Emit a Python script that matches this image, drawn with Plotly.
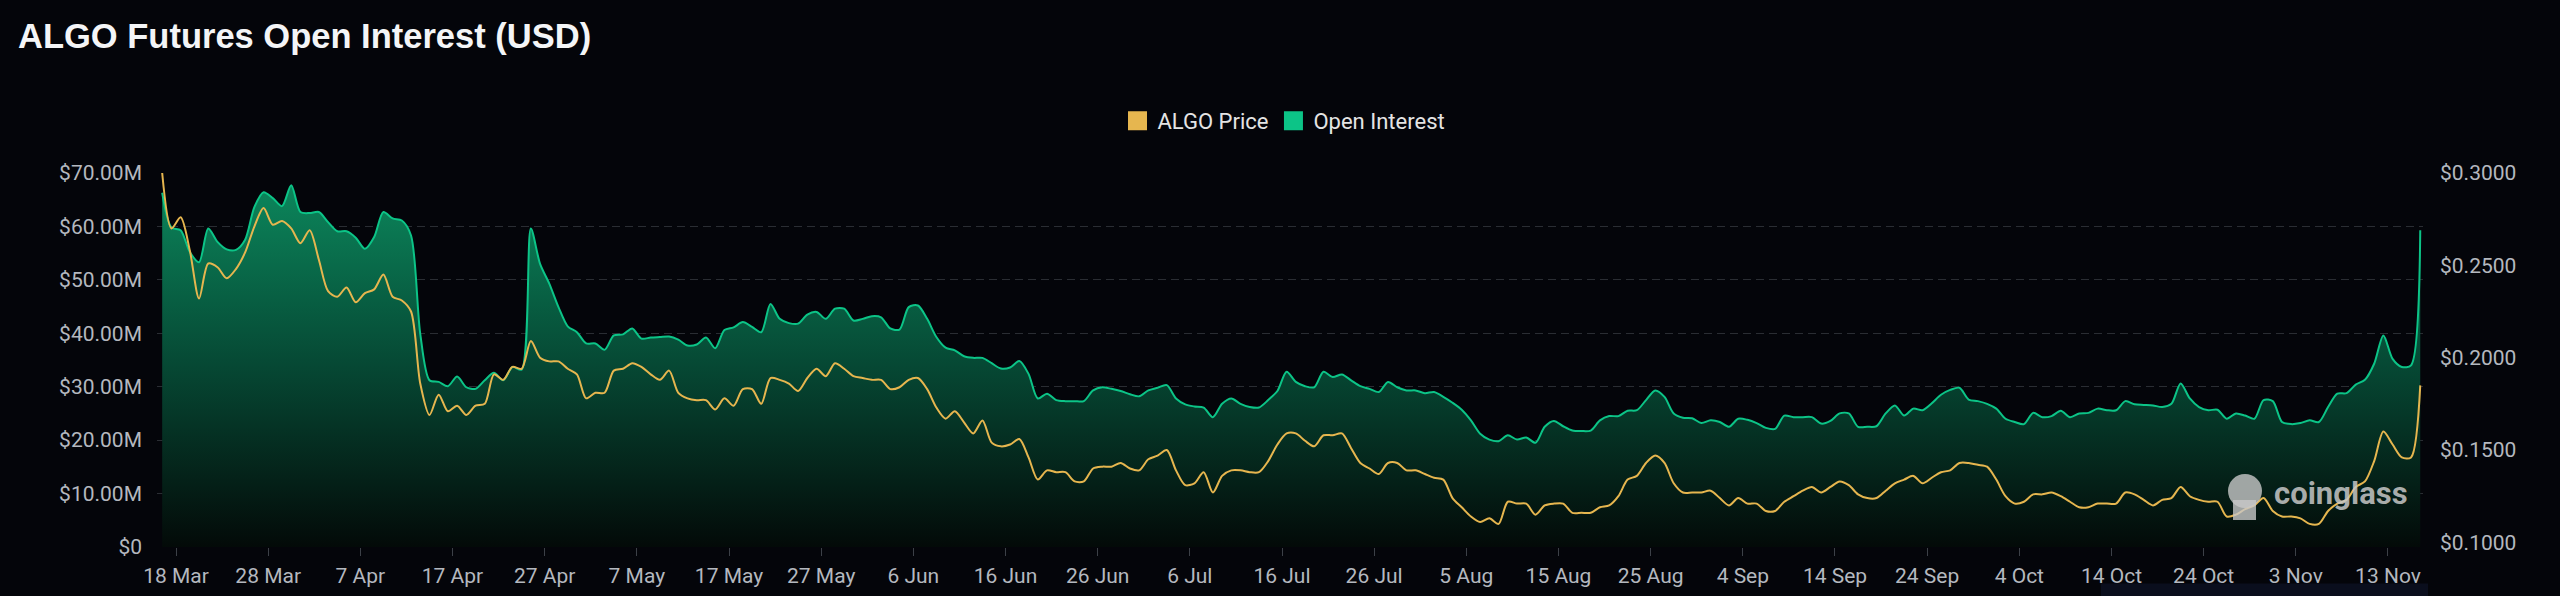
import pandas as pd
import plotly.graph_objects as go

# ---------------- data ----------------
dates = pd.date_range("2024-03-16 12:00", "2024-11-16 12:00", freq="D")

open_interest_musd = [
    66.3, 59.8, 59.3, 55.2, 53.3, 59.6, 57.1, 55.7, 55.6, 57.5,
    63.6, 66.4, 65.3, 63.8, 67.7, 62.7, 62.5, 62.7, 60.8, 59.1,
    59.1, 57.9, 55.8, 58.0, 62.7, 61.5, 61.1, 58.3, 39.9, 31.2,
    30.9, 30.1, 31.9, 29.9, 29.6, 31.2, 32.6, 31.2, 33.7, 33.2,
    59.6, 53.0, 49.3, 44.9, 41.3, 40.2, 38.1, 38.1, 36.9, 39.6,
    39.8, 40.9, 39.0, 39.2, 39.3, 39.4, 38.8, 37.7, 37.9,
    39.2, 37.2, 40.6, 41.1, 42.1, 41.2, 40.2, 45.5, 42.7, 41.9,
    41.8, 43.5, 44.0, 42.7, 44.6, 44.6, 42.4, 42.7, 43.2, 43.0,
    40.9, 40.7, 44.9, 45.2, 42.7, 39.3, 37.3, 36.8, 35.7, 35.4,
    35.4, 34.4, 33.4, 33.6, 34.8, 32.4, 27.8, 28.7, 27.5, 27.3,
    27.3, 27.3, 29.3, 29.9, 29.6, 29.2, 28.6, 28.2, 29.3, 29.8,
    30.3, 27.8, 26.7, 26.3, 26.1, 24.3, 26.8, 27.8, 26.8,
    26.2, 26.1, 27.5, 29.2, 32.8, 30.9, 30.1, 29.9, 32.8, 31.8,
    32.3, 31.2, 30.1, 29.6, 29.0, 30.9, 29.9, 29.3, 29.3, 28.8,
    29.0, 28.1, 27.0, 25.7, 23.7, 21.2, 20.1, 19.8, 20.9, 20.1,
    20.5, 19.5, 22.5, 23.6, 22.6, 21.8, 21.7, 21.8, 23.7, 24.5,
    24.5, 25.5, 25.6, 27.5, 29.3, 28.1, 25.0, 24.2, 24.1, 23.2,
    23.7, 23.4, 22.5, 24.0, 23.8, 23.2, 22.3, 22.1, 24.6, 24.3,
    24.3, 24.3, 23.1, 23.6, 25.0, 25.0, 22.5, 22.5, 22.6, 25.0,
    26.5, 24.6, 25.9, 25.6, 26.9, 28.5, 29.4, 29.8, 27.6, 27.3,
    26.8, 25.9, 24.0, 23.4, 23.0, 25.1, 24.3, 24.5, 25.5, 24.3,
    25.0, 25.1, 25.9, 25.6, 25.6, 27.3, 26.7, 26.6, 26.5, 26.2,
    26.8, 30.6, 27.8, 26.2, 25.6, 25.7, 24.0, 25.0, 24.6, 24.0,
    27.5, 27.3, 23.4, 23.0, 23.2, 23.7, 23.4, 26.2, 28.7, 28.8,
    30.4, 31.3, 34.3, 39.6, 35.2, 33.7, 34.0, 59.3,
]

algo_price_usd = [
    0.300, 0.270, 0.276, 0.258, 0.232, 0.251, 0.249, 0.243, 0.248, 0.257,
    0.271, 0.281, 0.272, 0.274, 0.270, 0.262, 0.269, 0.253, 0.236, 0.233,
    0.238, 0.230, 0.235, 0.237, 0.245, 0.233, 0.231, 0.225, 0.186, 0.169,
    0.180, 0.171, 0.174, 0.169, 0.174, 0.175, 0.191, 0.188, 0.195, 0.194,
    0.209, 0.200, 0.198, 0.198, 0.194, 0.191, 0.178, 0.181, 0.181, 0.193,
    0.194, 0.197, 0.195, 0.191, 0.188, 0.193, 0.181, 0.178, 0.177,
    0.177, 0.172, 0.178, 0.174, 0.183, 0.183, 0.175, 0.189, 0.188, 0.186,
    0.182, 0.189, 0.194, 0.190, 0.197, 0.194, 0.190, 0.189, 0.188, 0.188,
    0.183, 0.184, 0.188, 0.189, 0.183, 0.173, 0.167, 0.171, 0.165, 0.159,
    0.166, 0.154, 0.152, 0.153, 0.156, 0.146, 0.134, 0.139, 0.138, 0.138,
    0.133, 0.133, 0.140, 0.141, 0.141, 0.143, 0.140, 0.139, 0.145, 0.147,
    0.150, 0.139, 0.131, 0.132, 0.138, 0.127, 0.136, 0.139, 0.139,
    0.138, 0.138, 0.144, 0.153, 0.159, 0.159, 0.155, 0.152, 0.158, 0.158,
    0.159, 0.151, 0.143, 0.140, 0.137, 0.143, 0.143, 0.139, 0.139, 0.137,
    0.135, 0.134, 0.124, 0.119, 0.114, 0.111, 0.113, 0.110, 0.122, 0.121,
    0.121, 0.115, 0.120, 0.121, 0.121, 0.116, 0.116, 0.116, 0.119, 0.120,
    0.125, 0.134, 0.136, 0.143, 0.147, 0.143, 0.132, 0.127, 0.127, 0.127,
    0.128, 0.124, 0.120, 0.124, 0.121, 0.121, 0.117, 0.117, 0.122, 0.125,
    0.128, 0.130, 0.127, 0.130, 0.133, 0.131, 0.126, 0.124, 0.124, 0.128,
    0.132, 0.134, 0.136, 0.132, 0.135, 0.138, 0.139, 0.143, 0.143, 0.142,
    0.141, 0.134, 0.125, 0.121, 0.122, 0.126, 0.126, 0.127, 0.125, 0.122,
    0.119, 0.119, 0.121, 0.121, 0.121, 0.127, 0.126, 0.123, 0.120, 0.123,
    0.124, 0.130, 0.125, 0.123, 0.122, 0.122, 0.114, 0.115, 0.118, 0.120,
    0.124, 0.117, 0.114, 0.114, 0.113, 0.110, 0.110, 0.117, 0.121, 0.123,
    0.130, 0.133, 0.144, 0.160, 0.153, 0.146, 0.146, 0.185,
]

x_tick_dates = ["2024-03-18", "2024-03-28", "2024-04-07", "2024-04-17", "2024-04-27",
                "2024-05-07", "2024-05-17", "2024-05-27", "2024-06-06", "2024-06-16",
                "2024-06-26", "2024-07-06", "2024-07-16", "2024-07-26", "2024-08-05",
                "2024-08-15", "2024-08-25", "2024-09-04", "2024-09-14", "2024-09-24",
                "2024-10-04", "2024-10-14", "2024-10-24", "2024-11-03", "2024-11-13"]
x_tick_labels = ["18 Mar", "28 Mar", "7 Apr", "17 Apr", "27 Apr", "7 May", "17 May",
                 "27 May", "6 Jun", "16 Jun", "26 Jun", "6 Jul", "16 Jul", "26 Jul",
                 "5 Aug", "15 Aug", "25 Aug", "4 Sep", "14 Sep", "24 Sep", "4 Oct",
                 "14 Oct", "24 Oct", "3 Nov", "13 Nov"]
oi_tick_vals = [0, 10, 20, 30, 40, 50, 60, 70]
oi_tick_labels = ["$0", "$10.00M", "$20.00M", "$30.00M", "$40.00M", "$50.00M", "$60.00M", "$70.00M"]
price_tick_vals = [0.10, 0.15, 0.20, 0.25, 0.30]
price_tick_labels = ["$0.1000", "$0.1500", "$0.2000", "$0.2500", "$0.3000"]

# ---------------- style ----------------
BG = "#04050a"
GREEN = "#0cc487"
YELLOW = "#e6b64f"
LABEL = "#b4b8bf"
GRID = "#2a2d33"
TICKFONT = dict(family="Roboto", size=21, color=LABEL)

W, H = 2560, 596
L, R, T, B = 157, 137, 173, 49
PW, PH = W - L - R, H - T - B


def px_x(px):
    return (px - L) / PW


def px_y(py):
    return (H - B - py) / PH


fig = go.Figure()

fig.add_trace(go.Scatter(
    x=dates, y=open_interest_musd, name="Open Interest", legendgroup="oi",
    mode="lines", line=dict(color=GREEN, width=2, shape="spline", smoothing=0.8),
    fill="tozeroy",
    fillgradient=dict(type="vertical", start=0, stop=70,
                      colorscale=[[0, "#030a08"], [0.5, "#064a35"], [1, "#0c8a5e"]]),
    showlegend=False,
    hovertemplate="%{x|%d %b %Y}<br>Open Interest: $%{y:.2f}M<extra></extra>",
))
fig.add_trace(go.Scatter(
    x=dates, y=algo_price_usd, name="ALGO Price", legendgroup="price", yaxis="y2",
    mode="lines", line=dict(color=YELLOW, width=2, shape="spline", smoothing=0.8),
    showlegend=False,
    hovertemplate="%{x|%d %b %Y}<br>ALGO Price: $%{y:.4f}<extra></extra>",
))
# legend entries (square swatches)
fig.add_trace(go.Scatter(x=[None], y=[None], mode="markers", name="ALGO Price",
                         legendgroup="price", yaxis="y2",
                         marker=dict(symbol="square", size=16, color=YELLOW,
                                     line=dict(color=YELLOW, width=3))))
fig.add_trace(go.Scatter(x=[None], y=[None], mode="markers", name="Open Interest",
                         legendgroup="oi",
                         marker=dict(symbol="square", size=16, color=GREEN,
                                     line=dict(color=GREEN, width=3))))

fig.update_layout(
    width=W, height=H,
    paper_bgcolor=BG, plot_bgcolor=BG,
    margin=dict(l=L, r=R, t=T, b=B, autoexpand=False),
    title=dict(text="ALGO Futures Open Interest (USD)", xref="container", yref="container",
               x=18 / W, xanchor="left", y=1 - 36 / H, yanchor="middle",
               font=dict(family="Liberation Sans", size=34.5, color="#f4f5f7", weight="bold")),
    legend=dict(orientation="h", xref="container", yref="container",
                x=1284 / W, xanchor="center", y=1 - 121 / H, yanchor="middle",
                font=dict(family="Roboto", size=22, color="#e4e4e4"),
                bgcolor="rgba(0,0,0,0)", itemsizing="trace", traceorder="normal"),
    xaxis=dict(range=["2024-03-15 22:30", "2024-11-16 19:10"],
               tickvals=x_tick_dates, ticktext=x_tick_labels, tickfont=TICKFONT,
               ticks="outside", ticklen=8, tickcolor="#3c4047", tickwidth=1,
               showgrid=False, showline=False, zeroline=False, automargin=False,
               ticklabelstandoff=2),
    yaxis=dict(range=[0, 70], tickvals=oi_tick_vals, ticktext=oi_tick_labels,
               tickfont=TICKFONT, showgrid=True, gridcolor=GRID, gridwidth=1,
               griddash="8px,5px", zeroline=False, showline=False, ticks="",
               ticklabelstandoff=14, automargin=False),
    yaxis2=dict(range=[0.0975, 0.3], tickvals=price_tick_vals, ticktext=price_tick_labels,
                tickfont=TICKFONT, overlaying="y", side="right", showgrid=False,
                zeroline=False, showline=False, ticks="", ticklabelstandoff=16,
                automargin=False),
    shapes=[
        dict(type="rect", xref="paper", yref="paper", x0=px_x(2101), x1=px_x(2428),
             y0=px_y(596), y1=px_y(583.5), fillcolor="#0a0e1d", line=dict(width=0), layer="below"),
        # watermark mascot (simplified)
        dict(type="circle", xref="paper", yref="paper", x0=px_x(2228), x1=px_x(2262),
             y0=px_y(508), y1=px_y(474), fillcolor="rgba(200,200,200,0.8)", line=dict(width=0)),
        dict(type="rect", xref="paper", yref="paper", x0=px_x(2233), x1=px_x(2256),
             y0=px_y(520), y1=px_y(500), fillcolor="rgba(200,200,200,0.8)", line=dict(width=0)),
    ],
    annotations=[dict(text="coinglass", xref="paper", yref="paper", x=px_x(2341), y=px_y(493),
                      xanchor="center", yanchor="middle", showarrow=False,
                      font=dict(family="Roboto", size=31, color="rgba(200,200,200,0.85)", weight="bold"))],
    hovermode="x unified",
)

fig.write_html(
    "out.html",
    config={"displayModeBar": False},
    post_script="document.body.style.margin='0';document.body.style.overflow='hidden';"
                "document.body.style.background='#04050a';",
)
